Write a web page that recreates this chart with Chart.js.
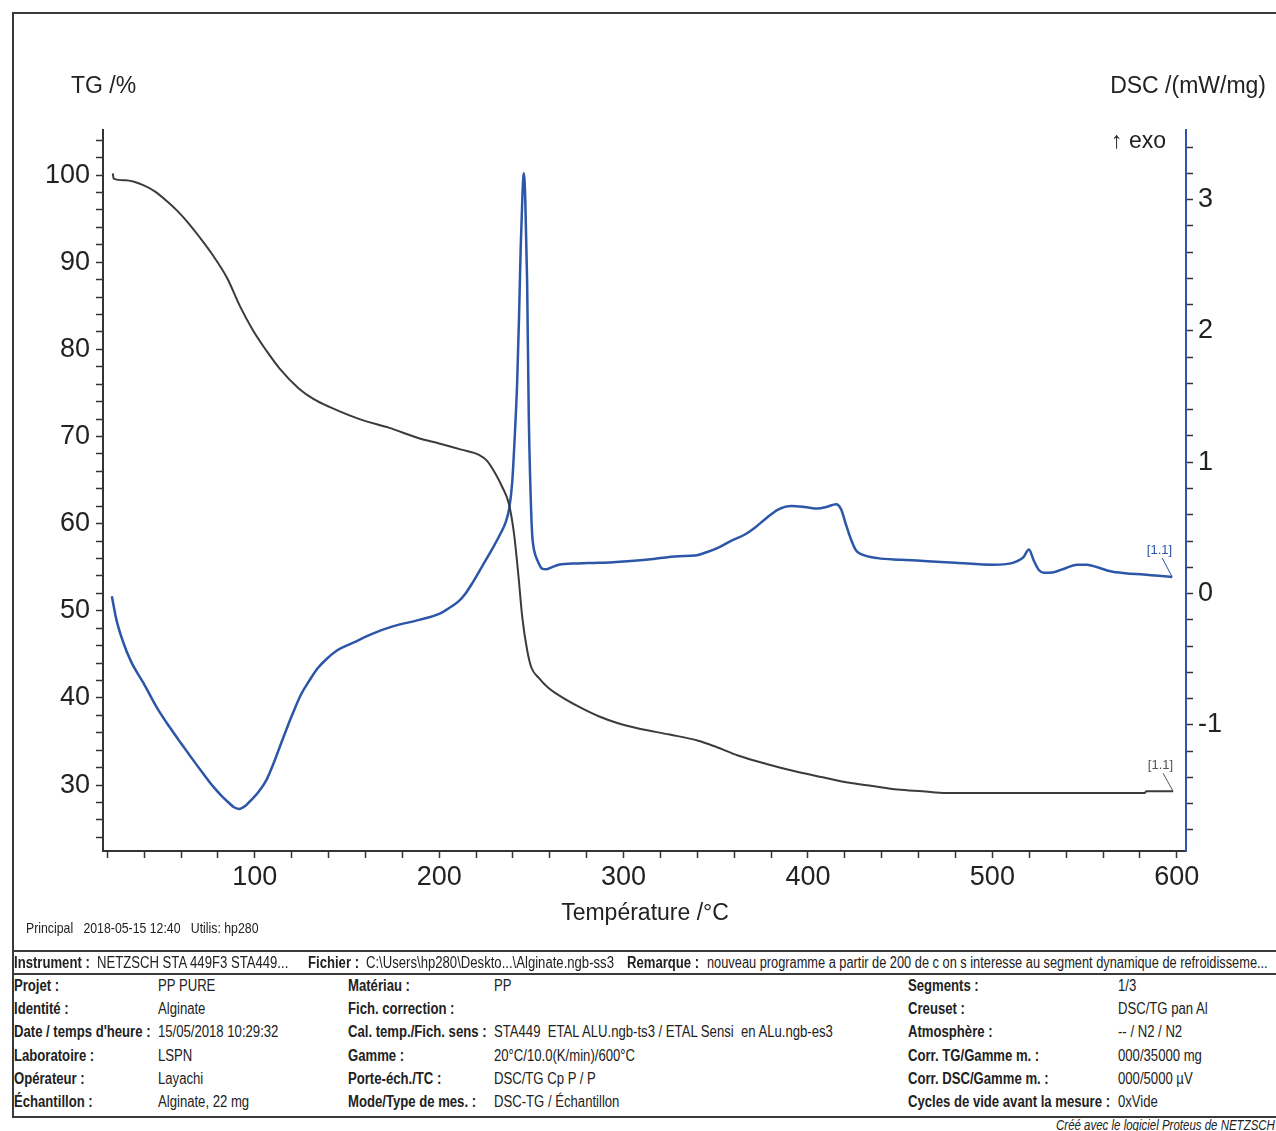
<!DOCTYPE html>
<html>
<head>
<meta charset="utf-8">
<title>TG / DSC Alginate</title>
<script src="https://cdn.jsdelivr.net/npm/chart.js@4.4.1/dist/chart.umd.min.js"></script>
<style>
    body { margin: 0; background: #fff; }
    #page {
        position: relative; width: 1276px; height: 1131px; overflow: hidden;
        font-family: 'Liberation Sans', Arial, sans-serif; color: #222;
    }
    #chart-box { position: absolute; left: 0; top: 0; width: 1276px; height: 940px; }
    .hline { position: absolute; left: 13px; right: 0; height: 2px; background: #3a3a3a; }
    .vline { position: absolute; left: 12px; width: 2px; background: #3a3a3a; }
    /* the original uses a narrow face, squeeze the regular one */
    .t {
        position: absolute; white-space: nowrap; font-size: 16px; line-height: 18px;
        transform: scaleX(0.82); transform-origin: 0 50%;
    }
    .b { font-weight: bold; }
</style>
</head>
<body>
<div id="page">
    <div class="hline" style="top:12px"></div>
    <div class="vline" style="top:12px;height:1106px"></div>

    <div id="chart-box"><canvas id="tgChart" width="1276" height="940"></canvas></div>

    <div class="t" style="left:26px;top:919px;font-size:15px">Principal&nbsp;&nbsp;&nbsp;2018-05-15 12:40&nbsp;&nbsp;&nbsp;Utilis: hp280</div>

    <div class="hline" style="top:950px"></div>
    <div class="hline" style="top:973px"></div>
    <div class="hline" style="top:1116px"></div>

    <!-- instrument row -->
    <div class="t b" style="left:14px;top:954px">Instrument :</div>
    <div class="t" style="left:97px;top:954px">NETZSCH STA 449F3 STA449...</div>
    <div class="t b" style="left:308px;top:954px">Fichier :</div>
    <div class="t" style="left:366px;top:954px">C:\Users\hp280\Deskto...\Alginate.ngb-ss3</div>
    <div class="t b" style="left:627px;top:954px">Remarque :</div>
    <div class="t" style="left:707px;top:954px;transform:scaleX(0.8)">nouveau programme a partir de 200 de c on s interesse au segment dynamique de refroidisseme...</div>

    <!-- column 1 -->
    <div class="t b" style="left:14px;top:977px">Projet :</div>
    <div class="t" style="left:158px;top:977px">PP PURE</div>
    <div class="t b" style="left:14px;top:1000px">Identité :</div>
    <div class="t" style="left:158px;top:1000px">Alginate</div>
    <div class="t b" style="left:14px;top:1023px">Date / temps d'heure :</div>
    <div class="t" style="left:158px;top:1023px">15/05/2018 10:29:32</div>
    <div class="t b" style="left:14px;top:1047px">Laboratoire :</div>
    <div class="t" style="left:158px;top:1047px">LSPN</div>
    <div class="t b" style="left:14px;top:1070px">Opérateur :</div>
    <div class="t" style="left:158px;top:1070px">Layachi</div>
    <div class="t b" style="left:14px;top:1093px">Échantillon :</div>
    <div class="t" style="left:158px;top:1093px">Alginate, 22 mg</div>

    <!-- column 2 -->
    <div class="t b" style="left:348px;top:977px">Matériau :</div>
    <div class="t" style="left:494px;top:977px">PP</div>
    <div class="t b" style="left:348px;top:1000px">Fich. correction :</div>
    <div class="t b" style="left:348px;top:1023px">Cal. temp./Fich. sens :</div>
    <div class="t" style="left:494px;top:1023px">STA449&nbsp; ETAL ALU.ngb-ts3 / ETAL Sensi&nbsp; en ALu.ngb-es3</div>
    <div class="t b" style="left:348px;top:1047px">Gamme :</div>
    <div class="t" style="left:494px;top:1047px">20°C/10.0(K/min)/600°C</div>
    <div class="t b" style="left:348px;top:1070px">Porte-éch./TC :</div>
    <div class="t" style="left:494px;top:1070px">DSC/TG Cp P / P</div>
    <div class="t b" style="left:348px;top:1093px">Mode/Type de mes. :</div>
    <div class="t" style="left:494px;top:1093px">DSC-TG / Échantillon</div>

    <!-- column 3 -->
    <div class="t b" style="left:908px;top:977px">Segments :</div>
    <div class="t" style="left:1118px;top:977px">1/3</div>
    <div class="t b" style="left:908px;top:1000px">Creuset :</div>
    <div class="t" style="left:1118px;top:1000px">DSC/TG pan Al</div>
    <div class="t b" style="left:908px;top:1023px">Atmosphère :</div>
    <div class="t" style="left:1118px;top:1023px">-- / N2 / N2</div>
    <div class="t b" style="left:908px;top:1047px">Corr. TG/Gamme m. :</div>
    <div class="t" style="left:1118px;top:1047px">000/35000 mg</div>
    <div class="t b" style="left:908px;top:1070px">Corr. DSC/Gamme m. :</div>
    <div class="t" style="left:1118px;top:1070px">000/5000 µV</div>
    <div class="t b" style="left:908px;top:1093px">Cycles de vide avant la mesure :</div>
    <div class="t" style="left:1118px;top:1093px">0xVide</div>

    <div class="t" style="right:1px;top:1116px;font-size:14px;font-style:italic;transform-origin:100% 50%">Créé avec le logiciel Proteus de NETZSCH</div>
</div>

<script>
// TG curve, temperature /°C and mass /%
const tgTemp = [23.0, 23.5, 30, 39.5, 46, 52.4, 58, 63.2, 70, 77.3, 85, 91.9, 99, 106.5, 113.5, 124, 132,
    140.5, 156.8, 173, 189, 200, 212, 221.6, 226, 230.6, 234, 237.8, 240.5, 243, 245, 247.7, 250, 254, 259,
    265, 275.7, 286.5, 297, 308, 325, 340.5, 350, 362, 378, 394.6, 408, 421.6, 435, 448.6, 462, 475.1, 500,
    550, 582.7, 583.5, 598];
const tgMass = [100.2, 99.6, 99.4, 98.85, 98.1, 97.0, 95.9, 94.7, 92.9, 90.8, 88.2, 85.0, 82.2, 79.8, 77.8, 75.5, 74.3,
    73.4, 72.0, 71.0, 69.8, 69.2, 68.5, 67.9, 67.2, 65.7, 64.3, 62.3, 59.0, 54.0, 49.4, 45.5, 43.5, 42.3, 41.2,
    40.3, 39.0, 37.9, 37.1, 36.5, 35.8, 35.1, 34.4, 33.4, 32.4, 31.5, 30.9, 30.3, 29.9, 29.5, 29.3, 29.1, 29.1,
    29.1, 29.1, 29.3, 29.3];

// DSC curve, temperature /°C and heat flow /(mW/mg)
const dscTemp = [22.5, 25, 28.8, 33, 39.6, 47, 54, 60, 66.7, 72, 77.5, 82, 86.5, 88.5, 91.5, 95, 98.2, 102, 106.3,
    110, 113.5, 117, 120.7, 125, 129.7, 134, 138.8, 145, 153.1, 163, 174.8, 189.2, 200, 205.4, 210.8, 214, 218,
    223, 228.8, 233, 236, 238, 239.6, 241, 242.3, 243.3, 244.2, 245.2, 245.9, 246.7, 247.7, 248.6, 249.5, 250.4,
    251.5, 253.1, 255.8, 258, 261, 264.9, 275, 286.5, 300, 313.5, 329.7, 338.8, 345, 351.4, 358, 365.8, 371,
    376.6, 383.8, 391, 398, 405.4, 410, 415.3, 418, 420.5, 423.4, 426, 428.8, 437.8, 450, 464.9, 480, 500.9,
    510, 513.5, 517, 519.8, 522.5, 525.2, 527.9, 533.3, 540, 545.9, 551.4, 557, 564, 572, 582, 590, 597.5];
const dscFlow = [-0.02, -0.20, -0.376, -0.52, -0.68, -0.87, -1.02, -1.14, -1.27, -1.37, -1.47, -1.54, -1.60, -1.625,
    -1.64, -1.615, -1.57, -1.51, -1.42, -1.30, -1.17, -1.04, -0.91, -0.77, -0.66, -0.57, -0.50, -0.43, -0.376,
    -0.31, -0.25, -0.20, -0.155, -0.11, -0.055, -0.005, 0.08, 0.20, 0.34, 0.45, 0.54, 0.65, 0.845, 1.2, 1.61,
    2.1, 2.63, 3.05, 3.2, 3.0, 2.37, 1.35, 0.8, 0.46, 0.33, 0.26, 0.19, 0.185, 0.20, 0.22, 0.23, 0.234, 0.245,
    0.26, 0.285, 0.29, 0.315, 0.35, 0.40, 0.45, 0.50, 0.565, 0.64, 0.667, 0.66, 0.647, 0.66, 0.68, 0.64, 0.53,
    0.41, 0.33, 0.30, 0.27, 0.258, 0.247, 0.235, 0.22, 0.23, 0.247, 0.28, 0.336, 0.25, 0.18, 0.158, 0.163,
    0.195, 0.22, 0.22, 0.20, 0.17, 0.155, 0.145, 0.135, 0.127];

// labelled ticks (minor ticks in between are unlabelled)
const tempTickLabels = [100, 200, 300, 400, 500, 600];
const tgTickLabels = [30, 40, 50, 60, 70, 80, 90, 100];
const dscTickLabels = [-1, 0, 1, 2, 3];

const FONT = "'Liberation Sans', Arial, sans-serif";
const TG_COLOR = '#3b3b3b';
const DSC_COLOR = '#2c56a8';
const AXIS_COLOR = '#333';

function labelIf(list) {
    return (v) => {
        const r = Math.round(v);
        return (Math.abs(v - r) < 1e-6 && list.includes(r)) ? String(r) : '';
    };
}

// axis titles, exo arrow and [1.1] segment markers
const annotate = {
    id: 'annotate',
    afterDraw(chart) {
        const { ctx, scales } = chart;
        ctx.save();
        ctx.fillStyle = '#222';
        ctx.font = '23px ' + FONT;
        ctx.textBaseline = 'alphabetic';
        ctx.textAlign = 'left';
        ctx.fillText('TG /%', 71, 93);
        ctx.textAlign = 'right';
        ctx.fillText('DSC /(mW/mg)', 1266, 93);
        ctx.fillText('\u2191 exo', 1166, 148);
        ctx.textAlign = 'center';
        ctx.fillText('Température /°C', 645, 920);

        // segment markers at curve ends
        ctx.font = '13px ' + FONT;
        ctx.lineWidth = 1;
        const marks = [
            { x: tgTemp[tgTemp.length - 1], y: tgMass[tgMass.length - 1], axis: 'yTG', color: '#555', dy: -25 },
            { x: dscTemp[dscTemp.length - 1], y: dscFlow[dscFlow.length - 1], axis: 'yDSC', color: DSC_COLOR, dy: -26 }
        ];
        marks.forEach(m => {
            const px = scales.x.getPixelForValue(m.x);
            const py = scales[m.axis].getPixelForValue(m.y);
            ctx.strokeStyle = m.color;
            ctx.fillStyle = m.color;
            ctx.beginPath();
            ctx.moveTo(px, py);
            ctx.lineTo(px - 10, py + m.dy + 7);
            ctx.stroke();
            ctx.textAlign = 'right';
            ctx.fillText('[1.1]', px, py + m.dy + 3);
        });
        ctx.restore();
    }
};

function axisOptions(extra) {
    return Object.assign({
        type: 'linear',
        border: { color: AXIS_COLOR, width: 2 },
        grid: { drawOnChartArea: false, tickLength: 7, color: AXIS_COLOR, tickWidth: 1.5 }
    }, extra);
}

const ctx = document.getElementById('tgChart').getContext('2d');
Chart.defaults.font.family = FONT;
Chart.defaults.color = '#222';

new Chart(ctx, {
    type: 'line',
    data: {
        datasets: [
            {
                label: 'TG',
                data: tgTemp.map((t, i) => ({ x: t, y: tgMass[i] })),
                yAxisID: 'yTG',
                borderColor: TG_COLOR,
                borderWidth: 2,
                pointRadius: 0,
                cubicInterpolationMode: 'monotone'
            },
            {
                label: 'DSC',
                data: dscTemp.map((t, i) => ({ x: t, y: dscFlow[i] })),
                yAxisID: 'yDSC',
                borderColor: DSC_COLOR,
                borderWidth: 2.5,
                pointRadius: 0,
                cubicInterpolationMode: 'monotone'
            }
        ]
    },
    options: {
        responsive: false,
        animation: false,
        layout: { padding: { top: 130, left: 0, right: 0, bottom: 0 } },
        plugins: { legend: { display: false }, tooltip: { enabled: false } },
        scales: {
            x: axisOptions({
                position: 'bottom',
                min: 17.7, max: 605,
                afterFit(s) { s.height = 89; },
                ticks: {
                    stepSize: 20, includeBounds: false, autoSkip: false, maxRotation: 0,
                    padding: 3, font: { size: 27 }, callback: labelIf(tempTickLabels)
                }
            }),
            yTG: axisOptions({
                position: 'left',
                min: 22.44, max: 105.18,
                afterFit(s) { s.width = 103; },
                ticks: {
                    stepSize: 2, includeBounds: false, autoSkip: false,
                    padding: 6, font: { size: 27 }, callback: labelIf(tgTickLabels)
                }
            }),
            yDSC: axisOptions({
                position: 'right',
                min: -1.96, max: 3.53,
                border: { color: DSC_COLOR, width: 2 },
                afterFit(s) { s.width = 90; },
                ticks: {
                    stepSize: 0.2, includeBounds: false, autoSkip: false,
                    padding: 5, font: { size: 27 }, callback: labelIf(dscTickLabels)
                }
            })
        }
    },
    plugins: [annotate]
});
</script>
</body>
</html>
